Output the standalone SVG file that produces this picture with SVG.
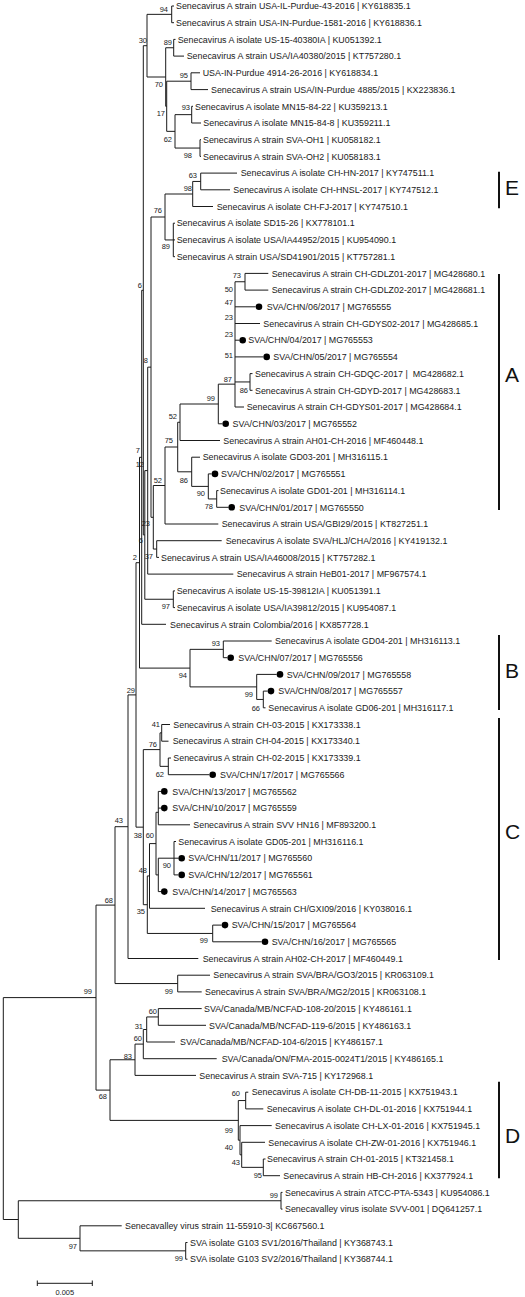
<svg xmlns="http://www.w3.org/2000/svg" width="525" height="1297" viewBox="0 0 525 1297">
<style>
.t{font-family:"Liberation Sans",Arial,sans-serif;font-size:8.9px;fill:#1a1a1a}
.b{font-family:"Liberation Sans",Arial,sans-serif;font-size:7.5px;fill:#1a1a1a;text-anchor:end}
.g{font-family:"Liberation Sans",Arial,sans-serif;font-size:21px;fill:#111}
.e{fill:none;stroke:#1a1a1a;stroke-width:1}
.bar{fill:none;stroke:#111;stroke-width:2}
.d{fill:#000}
</style>
<rect width="525" height="1297" fill="#fff"/>
<g id="connectors">
<path class="e" d="M171.7 6V22.7M171.7 6H174M171.7 22.7H174
M173.7 39.4V56.1M173.7 39.4H175.5M173.7 56.1H184
M191 72.8V89.6M191 72.8H200M191 89.6H208
M191.7 106.3V123M191.7 106.3H193M191.7 123H201
M200 139.7V156.4M200 139.7H201M200 156.4H201
M175 114.65V148.05M175 114.65H191.7M175 148.05H200
M166.7 81.2V131.35M166.7 81.2H191M166.7 131.35H175
M165.7 47.75V106.3M165.7 47.75H173.7M165.7 106.3H166.7
M147 14.35V77M147 14.35H171.7M147 77H165.7
M200.7 173.1V189.8M200.7 173.1H237M200.7 189.8H230
M192.7 181.45V206.5M192.7 181.45H200.7M192.7 206.5H213
M173.3 223.2V256.7M173.3 223.2H175M173.3 239.9H175M173.3 256.7H175
M165 194V239.95M165 194H192.7M165 239.95H173.3
M245 273.4V290.1M245 273.4H268.3M245 290.1H268.3
M235 281.75V407M235 281.75H245M235 306.8H255.7M235 323.5H260M235 340.2H239.4M235 356.9H263.4M235 381.95H250M235 407H244
M250 373.6V390.3M250 373.6H252.5M250 390.3H252.5
M218.3 384.15V423.8M218.3 384.15H235M218.3 423.8H222.4
M180 404V440.5M180 404H218.3M180 440.5H220
M216.7 490.6V507.3M216.7 490.6H218.5M216.7 507.3H228.4
M208.3 473.9V498.95M208.3 473.9H211.7M208.3 498.95H216.7
M191.7 457.2V486.4M191.7 457.2H200M191.7 486.4H208.3
M177.7 422.25V471.8M177.7 422.25H180M177.7 471.8H191.7
M165 447V524M165 447H177.7M165 524H218.3
M156.7 540.7V557.4M156.7 540.7H221.7M156.7 557.4H159
M153.3 485.5V549.05M153.3 485.5H165M153.3 549.05H156.7
M151 217V517.3M151 217H165M151 517.3H153.3
M147.7 367.15V574.1M147.7 367.15H151M147.7 574.1H233.3
M173.3 590.9V607.6M173.3 590.9H175M173.3 607.6H175
M144.8 470.6V599.25M144.8 470.6H147.7M144.8 599.25H173.3
M143.3 45.7V534.9M143.3 45.7H147M143.3 534.9H144.8
M141.7 290.3V624.3M141.7 290.3H143.3M141.7 624.3H166
M223.3 641V657.7M223.3 641H271.7M223.3 657.7H227.4
M263.3 691.1V707.8M263.3 691.1H267.7M263.3 707.8H265.5
M256.7 674.4V699.45M256.7 674.4H276.7M256.7 699.45H263.3
M190 649.35V686.9M190 649.35H223.3M190 686.9H256.7
M139.5 457.3V668.1M139.5 457.3H141.7M139.5 668.1H190
M161.7 724.5V741.2M161.7 724.5H170M161.7 741.2H168.5
M168.3 758V774.7M168.3 758H171M168.3 774.7H209.4
M160 732.85V766.35M160 732.85H161.7M160 766.35H168.3
M158.3 791.4V824.8M158.3 791.4H161M158.3 808.1H161M158.3 824.8H190
M158.3 858.2V891.6M158.3 858.2H174M158.3 891.6H161
M174 841.5V874.9M174 841.5H176M174 858.2H178.4M174 874.9H178.4
M156 812.3V874.9M156 812.3H158.3M156 874.9H158.3
M149.5 843.6V908.3M149.5 843.6H156M149.5 908.3H205
M212.7 925.1V941.8M212.7 925.1H221.7M212.7 941.8H261.7
M147.3 875.95V933.45M147.3 875.95H149.5M147.3 933.45H212.7
M143.3 749.6V904.7M143.3 749.6H160M143.3 904.7H147.3
M136 562.7V827.15M136 562.7H139.5M136 827.15H143.3
M128 694.9V958.5M128 694.9H136M128 958.5H198.3
M177.7 975.2V991.9M177.7 975.2H210M177.7 991.9H201.7
M115 826.7V983.55M115 826.7H128M115 983.55H177.7
M158.3 1008.6V1025.3M158.3 1008.6H201.7M158.3 1025.3H206
M146.7 1016.95V1042M146.7 1016.95H158.3M146.7 1042H175
M143.3 1029.5V1058.7M143.3 1029.5H146.7M143.3 1058.7H216.7
M135 1044.1V1075.4M135 1044.1H143.3M135 1075.4H196
M245.7 1092.2V1108.9M245.7 1092.2H248.3M245.7 1108.9H263.3
M263.3 1159V1175.7M263.3 1159H265.5M263.3 1175.7H280
M241.7 1142.3V1167.35M241.7 1142.3H265M241.7 1167.35H263.3
M240 1125.6V1154.8M240 1125.6H271.7M240 1154.8H241.7
M238.3 1100.55V1140.2M238.3 1100.55H245.7M238.3 1140.2H240
M110 1059.75V1120.4M110 1059.75H135M110 1120.4H238.3
M96 905.1V1090.1M96 905.1H115M96 1090.1H110
M281 1192.4V1209.1M281 1192.4H282.5M281 1209.1H282.5
M185.7 1242.5V1259.2M185.7 1242.5H187.5M185.7 1259.2H187.5
M80 1225.8V1250.85M80 1225.8H121.7M80 1250.85H185.7
M18.3 1200.75V1238.3M18.3 1200.75H281M18.3 1238.3H80
M3.3 997.6V1219.5M3.3 997.6H96M3.3 1219.5H18.3"/>
</g>
<g id="leaves">
<g id="L0"><text class="t" x="176" y="9.2">Senecavirus A strain USA-IL-Purdue-43-2016 | KY618835.1</text></g>
<g id="L1"><text class="t" x="176" y="25.9">Senecavirus A strain USA-IN-Purdue-1581-2016 | KY618836.1</text></g>
<g id="L2"><text class="t" x="177.7" y="42.6">Senecavirus A isolate US-15-40380IA | KU051392.1</text></g>
<g id="L3"><text class="t" x="186.7" y="59.3">Senecavirus A strain USA/IA40380/2015 | KT757280.1</text></g>
<g id="L4"><text class="t" x="202.7" y="76">USA-IN-Purdue 4914-26-2016 | KY618834.1</text></g>
<g id="L5"><text class="t" x="211" y="92.8">Senecavirus A strain USA/IN-Purdue 4885/2015 | KX223836.1</text></g>
<g id="L6"><text class="t" x="195" y="109.5">Senecavirus A isolate MN15-84-22 | KU359213.1</text></g>
<g id="L7"><text class="t" x="203.3" y="126.2">Senecavirus A isolate MN15-84-8 | KU359211.1</text></g>
<g id="L8"><text class="t" x="203" y="142.9">Senecavirus A strain SVA-OH1 | KU058182.1</text></g>
<g id="L9"><text class="t" x="203" y="159.6">Senecavirus A strain SVA-OH2 | KU058183.1</text></g>
<g id="L10"><text class="t" x="240.7" y="176.3">Senecavirus A isolate CH-HN-2017 | KY747511.1</text></g>
<g id="L11"><text class="t" x="233.3" y="193">Senecavirus A isolate CH-HNSL-2017 | KY747512.1</text></g>
<g id="L12"><text class="t" x="216.7" y="209.7">Senecavirus A isolate CH-FJ-2017 | KY747510.1</text></g>
<g id="L13"><text class="t" x="176.7" y="226.4">Senecavirus A isolate SD15-26 | KX778101.1</text></g>
<g id="L14"><text class="t" x="176.7" y="243.1">Senecavirus A isolate USA/IA44952/2015 | KU954090.1</text></g>
<g id="L15"><text class="t" x="176.7" y="259.9">Senecavirus A strain USA/SD41901/2015 | KT757281.1</text></g>
<g id="L16"><text class="t" x="271.7" y="276.6">Senecavirus A strain CH-GDLZ01-2017 | MG428680.1</text></g>
<g id="L17"><text class="t" x="271.7" y="293.3">Senecavirus A strain CH-GDLZ02-2017 | MG428681.1</text></g>
<g id="L18"><circle class="d" cx="259" cy="306.8" r="3.3"/><text class="t" x="266.7" y="310">SVA/CHN/06/2017 | MG765555</text></g>
<g id="L19"><text class="t" x="263.3" y="326.7">Senecavirus A strain CH-GDYS02-2017 | MG428685.1</text></g>
<g id="L20"><circle class="d" cx="242.7" cy="340.2" r="3.3"/><text class="t" x="248.3" y="343.4">SVA/CHN/04/2017 | MG765553</text></g>
<g id="L21"><circle class="d" cx="266.7" cy="356.9" r="3.3"/><text class="t" x="273.3" y="360.1">SVA/CHN/05/2017 | MG765554</text></g>
<g id="L22"><text class="t" x="255" y="376.8">Senecavirus A strain CH-GDQC-2017 | &#160;MG428682.1</text></g>
<g id="L23"><text class="t" x="255" y="393.5">Senecavirus A strain CH-GDYD-2017 | MG428683.1</text></g>
<g id="L24"><text class="t" x="246.7" y="410.2">Senecavirus A strain CH-GDYS01-2017 | MG428684.1</text></g>
<g id="L25"><circle class="d" cx="225.7" cy="423.8" r="3.3"/><text class="t" x="232.5" y="427">SVA/CHN/03/2017 | MG765552</text></g>
<g id="L26"><text class="t" x="223.3" y="443.7">Senecavirus A strain AH01-CH-2016 | MF460448.1</text></g>
<g id="L27"><text class="t" x="202.7" y="460.4">Senecavirus A isolate GD03-201 | MH316115.1</text></g>
<g id="L28"><circle class="d" cx="215" cy="473.9" r="3.3"/><text class="t" x="221" y="477.1">SVA/CHN/02/2017 | MG765551</text></g>
<g id="L29"><text class="t" x="220" y="493.8">Senecavirus A isolate GD01-201 | MH316114.1</text></g>
<g id="L30"><circle class="d" cx="231.7" cy="507.3" r="3.3"/><text class="t" x="239.3" y="510.5">SVA/CHN/01/2017 | MG765550</text></g>
<g id="L31"><text class="t" x="221.7" y="527.2">Senecavirus A strain USA/GBI29/2015 | KT827251.1</text></g>
<g id="L32"><text class="t" x="225.7" y="543.9">Senecavirus A isolate SVA/HLJ/CHA/2016 | KY419132.1</text></g>
<g id="L33"><text class="t" x="161" y="560.6">Senecavirus A strain USA/IA46008/2015 | KT757282.1</text></g>
<g id="L34"><text class="t" x="236.7" y="577.3">Senecavirus A strain HeB01-2017 | MF967574.1</text></g>
<g id="L35"><text class="t" x="176.7" y="594.1">Senecavirus A isolate US-15-39812IA | KU051391.1</text></g>
<g id="L36"><text class="t" x="176.7" y="610.8">Senecavirus A isolate USA/IA39812/2015 | KU954087.1</text></g>
<g id="L37"><text class="t" x="170" y="627.5">Senecavirus A strain Colombia/2016 | KX857728.1</text></g>
<g id="L38"><text class="t" x="275" y="644.2">Senecavirus A isolate GD04-201 | MH316113.1</text></g>
<g id="L39"><circle class="d" cx="230.7" cy="657.7" r="3.3"/><text class="t" x="238.3" y="660.9">SVA/CHN/07/2017 | MG765556</text></g>
<g id="L40"><circle class="d" cx="280" cy="674.4" r="3.3"/><text class="t" x="286.7" y="677.6">SVA/CHN/09/2017 | MG765558</text></g>
<g id="L41"><circle class="d" cx="271" cy="691.1" r="3.3"/><text class="t" x="278.3" y="694.3">SVA/CHN/08/2017 | MG765557</text></g>
<g id="L42"><text class="t" x="268.3" y="711">Senecavirus A isolate GD06-201 | MH316117.1</text></g>
<g id="L43"><text class="t" x="173.3" y="727.7">Senecavirus A strain CH-03-2015 | KX173338.1</text></g>
<g id="L44"><text class="t" x="172.7" y="744.4">Senecavirus A strain CH-04-2015 | KX173340.1</text></g>
<g id="L45"><text class="t" x="173.3" y="761.2">Senecavirus A strain CH-02-2015 | KX173339.1</text></g>
<g id="L46"><circle class="d" cx="212.7" cy="774.7" r="3.3"/><text class="t" x="220" y="777.9">SVA/CHN/17/2017 | MG765566</text></g>
<g id="L47"><circle class="d" cx="164.3" cy="791.4" r="3.3"/><text class="t" x="172.3" y="794.6">SVA/CHN/13/2017 | MG765562</text></g>
<g id="L48"><circle class="d" cx="164.3" cy="808.1" r="3.3"/><text class="t" x="172.3" y="811.3">SVA/CHN/10/2017 | MG765559</text></g>
<g id="L49"><text class="t" x="193.3" y="828">Senecavirus A strain SVV HN16 | MF893200.1</text></g>
<g id="L50"><text class="t" x="178.3" y="844.7">Senecavirus A isolate GD05-201 | MH316116.1</text></g>
<g id="L51"><circle class="d" cx="181.7" cy="858.2" r="3.3"/><text class="t" x="188.3" y="861.4">SVA/CHN/11/2017 | MG765560</text></g>
<g id="L52"><circle class="d" cx="181.7" cy="874.9" r="3.3"/><text class="t" x="188.3" y="878.1">SVA/CHN/12/2017 | MG765561</text></g>
<g id="L53"><circle class="d" cx="164.3" cy="891.6" r="3.3"/><text class="t" x="172.3" y="894.8">SVA/CHN/14/2017 | MG765563</text></g>
<g id="L54"><text class="t" x="210.7" y="911.5">Senecavirus A strain CH/GXI09/2016 | KY038016.1</text></g>
<g id="L55"><circle class="d" cx="225" cy="925.1" r="3.3"/><text class="t" x="231.7" y="928.3">SVA/CHN/15/2017 | MG765564</text></g>
<g id="L56"><circle class="d" cx="265" cy="941.8" r="3.3"/><text class="t" x="271.7" y="945">SVA/CHN/16/2017 | MG765565</text></g>
<g id="L57"><text class="t" x="202.7" y="961.7">Senecavirus A strain AH02-CH-2017 | MF460449.1</text></g>
<g id="L58"><text class="t" x="213.3" y="978.4">Senecavirus A strain SVA/BRA/GO3/2015 | KR063109.1</text></g>
<g id="L59"><text class="t" x="205" y="995.1">Senecavirus A strain SVA/BRA/MG2/2015 | KR063108.1</text></g>
<g id="L60"><text class="t" x="204" y="1011.8">SVA/Canada/MB/NCFAD-108-20/2015 | KY486161.1</text></g>
<g id="L61"><text class="t" x="209" y="1028.5">SVA/Canada/MB/NCFAD-119-6/2015 | KY486163.1</text></g>
<g id="L62"><text class="t" x="180" y="1045.2">SVA/Canada/MB/NCFAD-104-6/2015 | KY486157.1</text></g>
<g id="L63"><text class="t" x="221.7" y="1061.9">SVA/Canada/ON/FMA-2015-0024T1/2015 | KY486165.1</text></g>
<g id="L64"><text class="t" x="199.3" y="1078.6">Senecavirus A strain SVA-715 | KY172968.1</text></g>
<g id="L65"><text class="t" x="251.7" y="1095.4">Senecavirus A isolate CH-DB-11-2015 | KX751943.1</text></g>
<g id="L66"><text class="t" x="266.7" y="1112.1">Senecavirus A isolate CH-DL-01-2016 | KX751944.1</text></g>
<g id="L67"><text class="t" x="275" y="1128.8">Senecavirus A isolate CH-LX-01-2016 | KX751945.1</text></g>
<g id="L68"><text class="t" x="268.3" y="1145.5">Senecavirus A isolate CH-ZW-01-2016 | KX751946.1</text></g>
<g id="L69"><text class="t" x="267" y="1162.2">Senecavirus A strain CH-01-2015 | KT321458.1</text></g>
<g id="L70"><text class="t" x="283.3" y="1178.9">Senecavirus A strain HB-CH-2016 | KX377924.1</text></g>
<g id="L71"><text class="t" x="285" y="1195.6">Senecavirus A strain ATCC-PTA-5343 | KU954086.1</text></g>
<g id="L72"><text class="t" x="285" y="1212.3">Senecavalley virus isolate SVV-001 | DQ641257.1</text></g>
<g id="L73"><text class="t" x="125" y="1229">Senecavalley virus strain 11-55910-3| KC667560.1</text></g>
<g id="L74"><text class="t" x="190" y="1245.7">SVA isolate G103 SV1/2016/Thailand | KY368743.1</text></g>
<g id="L75"><text class="t" x="190" y="1262.4">SVA isolate G103 SV2/2016/Thailand | KY368744.1</text></g>
</g>
<g id="bootstrap">
<text class="b" x="168" y="11.7">94</text>
<text class="b" x="147" y="42.7">30</text>
<text class="b" x="172" y="44.7">89</text>
<text class="b" x="188" y="78.2">95</text>
<text class="b" x="163" y="86.7">70</text>
<text class="b" x="190" y="110.2">93</text>
<text class="b" x="165" y="116.2">17</text>
<text class="b" x="172" y="142.2">62</text>
<text class="b" x="192" y="157.7">98</text>
<text class="b" x="197" y="177.7">63</text>
<text class="b" x="192" y="190.7">98</text>
<text class="b" x="162" y="212.7">76</text>
<text class="b" x="170" y="249.2">89</text>
<text class="b" x="142" y="287.7">6</text>
<text class="b" x="241" y="278.2">73</text>
<text class="b" x="233" y="291.7">50</text>
<text class="b" x="233" y="305.2">47</text>
<text class="b" x="233" y="320.2">23</text>
<text class="b" x="233" y="337.2">23</text>
<text class="b" x="233" y="358.2">51</text>
<text class="b" x="148" y="363.2">8</text>
<text class="b" x="232" y="382.2">87</text>
<text class="b" x="248" y="392.7">86</text>
<text class="b" x="215" y="400.7">99</text>
<text class="b" x="177" y="419.2">52</text>
<text class="b" x="173" y="443.2">75</text>
<text class="b" x="140" y="453.2">7</text>
<text class="b" x="144" y="467.2">12</text>
<text class="b" x="162" y="482.7">52</text>
<text class="b" x="188" y="482.7">86</text>
<text class="b" x="205" y="496.2">90</text>
<text class="b" x="213" y="509.2">78</text>
<text class="b" x="150" y="526.2">23</text>
<text class="b" x="143" y="543.2">6</text>
<text class="b" x="137" y="559.7">2</text>
<text class="b" x="153" y="559.2">37</text>
<text class="b" x="170" y="609.2">97</text>
<text class="b" x="220" y="645.7">93</text>
<text class="b" x="187" y="678.2">94</text>
<text class="b" x="135" y="692.7">29</text>
<text class="b" x="253" y="697.2">99</text>
<text class="b" x="260" y="711.2">66</text>
<text class="b" x="160" y="727.2">41</text>
<text class="b" x="157" y="747.2">76</text>
<text class="b" x="164" y="776.7">62</text>
<text class="b" x="123" y="823.2">43</text>
<text class="b" x="142" y="837.7">38</text>
<text class="b" x="154" y="837.7">60</text>
<text class="b" x="171" y="867.7">90</text>
<text class="b" x="147" y="872.7">48</text>
<text class="b" x="113" y="902.7">68</text>
<text class="b" x="145" y="914.2">35</text>
<text class="b" x="208" y="942.7">99</text>
<text class="b" x="92" y="994.2">99</text>
<text class="b" x="173" y="993.7">99</text>
<text class="b" x="157" y="1014.2">60</text>
<text class="b" x="143" y="1028.7">31</text>
<text class="b" x="142" y="1041.2">60</text>
<text class="b" x="132" y="1058.7">83</text>
<text class="b" x="240" y="1096.2">60</text>
<text class="b" x="107" y="1099.2">68</text>
<text class="b" x="233" y="1132.7">99</text>
<text class="b" x="233" y="1150.2">40</text>
<text class="b" x="240" y="1164.7">43</text>
<text class="b" x="262" y="1177.7">95</text>
<text class="b" x="278" y="1198.2">99</text>
<text class="b" x="77" y="1249.2">97</text>
<text class="b" x="183" y="1261.2">99</text>
</g>
<g id="clades">
<g id="clade-E"><path class="bar" d="M499 171.7V208.3"/><text class="g" x="505" y="195">E</text></g>
<g id="clade-A"><path class="bar" d="M499 274V510"/><text class="g" x="505" y="382">A</text></g>
<g id="clade-B"><path class="bar" d="M499 635V710"/><text class="g" x="505" y="678">B</text></g>
<g id="clade-C"><path class="bar" d="M499 718V960"/><text class="g" x="505" y="839">C</text></g>
<g id="clade-D"><path class="bar" d="M499 1081.7V1178.3"/><text class="g" x="505" y="1143">D</text></g>
</g>
<g id="scale">
<path class="e" d="M37.3 1283.3H92.3M37.3 1280.5V1286M92.3 1280.5V1286"/>
<text class="b" x="64.8" y="1295" style="text-anchor:middle">0.005</text>
</g>
</svg>
